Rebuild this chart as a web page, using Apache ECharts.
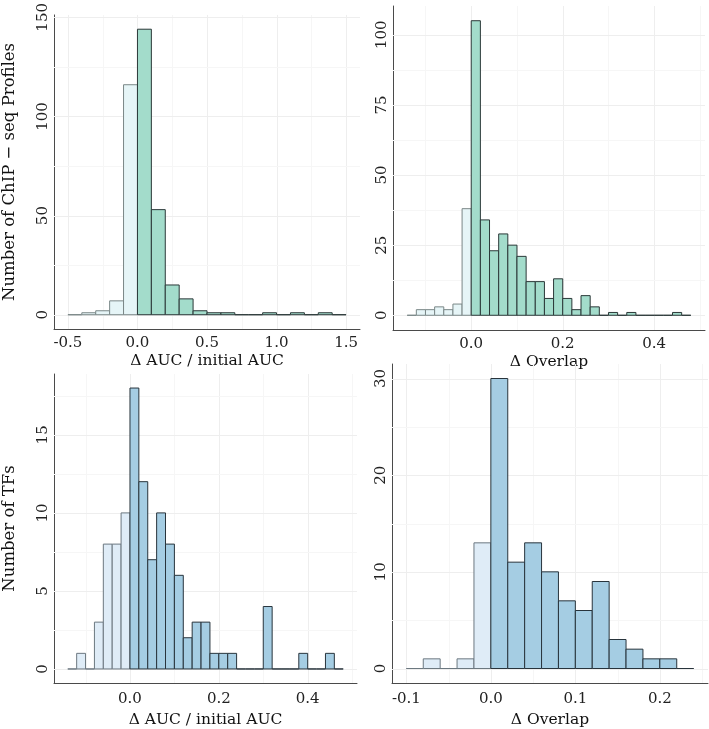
<!DOCTYPE html>
<html><head><meta charset="utf-8">
<script src="https://cdn.jsdelivr.net/npm/echarts@6/dist/echarts.min.js"></script>
<style>html,body{margin:0;padding:0;background:#fff}#c{width:709px;height:729px}</style>
</head><body><div id="c"></div>
<script>
// ---------- DATA ----------
// Panel A: ChIP-seq profiles, Δ AUC / initial AUC
const chipAucStart = -0.5, chipAucWidth = 0.1;
const chipAucCounts = [0,1,2,7,116,144,53,15,8,2,1,1,0,0,1,0,1,0,1,0];
const chipAucXTicks = [-0.5,0,0.5,1,1.5];
const chipAucXMinor = [-0.25,0.25,0.75,1.25];
const chipAucYTicks = [0,50,100,150];
const chipAucYMinor = [25,75,125];

// Panel B: ChIP-seq profiles, Δ Overlap
const chipOvStart = -0.14, chipOvWidth = 0.02;
const chipOvCounts = [0,2,2,3,2,4,38,105,34,23,29,25,21,12,12,6,13,6,2,7,3,0,1,0,1,0,0,0,0,1,0];
const chipOvXTicks = [0,0.2,0.4];
const chipOvXMinor = [-0.1,0.1,0.3,0.5];
const chipOvYTicks = [0,25,50,75,100];
const chipOvYMinor = [12.5,37.5,62.5,87.5];

// Panel C: TFs, Δ AUC / initial AUC
const tfAucStart = -0.14, tfAucWidth = 0.02;
const tfAucCounts = [0,1,0,3,8,8,10,18,12,7,10,8,6,2,3,3,1,1,1,0,0,0,4,0,0,0,1,0,0,1,0];
const tfAucXTicks = [0,0.2,0.4];
const tfAucXMinor = [-0.1,0.1,0.3,0.5];
const tfAucYTicks = [0,5,10,15];
const tfAucYMinor = [2.5,7.5,12.5,17.5];

// Panel D: TFs, Δ Overlap
const tfOvStart = -0.10, tfOvWidth = 0.02;
const tfOvCounts = [0,1,0,1,13,30,11,13,10,7,6,9,3,2,1,1,0];
const tfOvXTicks = [-0.1,0,0.1,0.2];
const tfOvXMinor = [-0.05,0.05,0.15,0.25];
const tfOvYTicks = [0,10,20,30];
const tfOvYMinor = [5,15,25];

const xTitleAuc = 'Δ AUC / initial AUC';
const xTitleOv = 'Δ Overlap';
const yTitleChip = 'Number of ChIP − seq Profiles';
const yTitleTF = 'Number of TFs';

// ---------- STYLE ----------
const FONT = 'DejaVu Serif';
const greens = {neg:'#e6f5f7', pos:'#a3dccb', negStroke:'#7a8787', posStroke:'#2b3838'};
const blues  = {neg:'#dfecf7', pos:'#a5cde3', negStroke:'#6c7880', posStroke:'#28343c'};

const panels = [
  {grid:{left:54, top:11, width:306, height:318}, start:chipAucStart, w:chipAucWidth, counts:chipAucCounts,
   xt:chipAucXTicks, xm:chipAucXMinor, yt:chipAucYTicks, ym:chipAucYMinor, xDec:1,
   xName:xTitleAuc, yName:yTitleChip, pal:greens, xGap:24, xMargin:7},
  {grid:{left:393, top:6, width:312, height:324}, start:chipOvStart, w:chipOvWidth, counts:chipOvCounts,
   xt:chipOvXTicks, xm:chipOvXMinor, yt:chipOvYTicks, ym:chipOvYMinor, xDec:1,
   xName:xTitleOv, yName:'', pal:greens, xGap:24, xMargin:7},
  {grid:{left:53, top:374, width:304, height:309}, start:tfAucStart, w:tfAucWidth, counts:tfAucCounts,
   xt:tfAucXTicks, xm:tfAucXMinor, yt:tfAucYTicks, ym:tfAucYMinor, xDec:1,
   xName:xTitleAuc, yName:yTitleTF, pal:blues, xGap:29, xMargin:9},
  {grid:{left:392, top:364, width:316, height:319}, start:tfOvStart, w:tfOvWidth, counts:tfOvCounts,
   xt:tfOvXTicks, xm:tfOvXMinor, yt:tfOvYTicks, ym:tfOvYMinor, xDec:1,
   xName:xTitleOv, yName:'', pal:blues, xGap:29, xMargin:9}
];

const option = {animation:false, backgroundColor:'#fff', grid:[], xAxis:[], yAxis:[], series:[]};

panels.forEach((p, i) => {
  const n = p.counts.length;
  const end = p.start + n * p.w;
  const xr = end - p.start;
  const ymax = Math.max.apply(null, p.counts);
  const xmin = p.start - 0.05 * xr, xmax = end + 0.05 * xr;
  const ymn = -0.05 * ymax, ymx = ymax * 1.05;
  option.grid.push(Object.assign({containLabel:false}, p.grid));
  option.xAxis.push({
    type:'value', gridIndex:i, min:xmin, max:xmax,
    axisLine:{show:true, onZero:false, lineStyle:{color:'#4a4a4a', width:1}},
    axisTick:{show:false}, splitLine:{show:false},
    axisLabel:{customValues:p.xt, margin:p.xMargin, color:'#222', fontFamily:FONT, fontSize:15,
      formatter:v => (Math.abs(v) < 1e-9 ? 0 : v).toFixed(p.xDec)},
    name:p.xName, nameLocation:'middle', nameGap:p.xGap,
    nameTextStyle:{color:'#111', fontFamily:FONT, fontSize:15.5}
  });
  option.yAxis.push({
    type:'value', gridIndex:i, min:ymn, max:ymx,
    axisLine:{show:true, onZero:false, lineStyle:{color:'#4a4a4a', width:1}},
    axisTick:{show:false}, splitLine:{show:false},
    axisLabel:{customValues:p.yt, rotate:90, margin:3, color:'#222', fontFamily:FONT, fontSize:15,
      formatter:v => String(Math.round(v))},
    name:p.yName, nameLocation:'middle', nameGap:36, nameRotate:90,
    nameTextStyle:{color:'#111', fontFamily:FONT, fontSize:16.5}
  });
  // gridlines
  const gl = [];
  p.xt.forEach(v => gl.push([v, 0, 1]));
  p.xm.forEach(v => gl.push([v, 0, 0]));
  p.yt.forEach(v => gl.push([v, 1, 1]));
  p.ym.forEach(v => gl.push([v, 1, 0]));
  option.series.push({
    type:'custom', xAxisIndex:i, yAxisIndex:i, silent:true, z:1,
    data:gl, encode:{x:0},
    renderItem:(params, api) => {
      const cs = params.coordSys;
      const v = api.value(0), dir = api.value(1), major = api.value(2);
      let shape;
      if (dir === 0) {
        const x = Math.round(api.coord([v, 0])[0]) + 0.5;
        shape = {x1:x, y1:cs.y, x2:x, y2:cs.y + cs.height};
      } else {
        const y = Math.round(api.coord([xmin, v])[1]) + 0.5;
        shape = {x1:cs.x, y1:y, x2:cs.x + cs.width, y2:y};
      }
      return {type:'line', shape, style:{stroke: major ? '#eeeeee' : '#f6f6f6', lineWidth:1}};
    }
  });
  // histogram bins
  const bins = p.counts.map((c, k) => [p.start + k * p.w, p.start + (k + 1) * p.w, c]);
  const pal = p.pal;
  option.series.push({
    type:'custom', xAxisIndex:i, yAxisIndex:i, silent:true, z:3,
    data:bins, encode:{x:[0,1], y:2},
    renderItem:(params, api) => {
      const x0 = api.value(0), x1 = api.value(1), c = api.value(2);
      const a = api.coord([x0, 0]);
      const b = api.coord([x1, c]);
      const neg = x1 <= 1e-9;
      return {type:'rect',
        shape:{x:a[0], y:b[1], width:b[0] - a[0], height:a[1] - b[1]},
        style:{fill: neg ? pal.neg : pal.pos, stroke: neg ? pal.negStroke : pal.posStroke, lineWidth:1}};
    }
  });
});

const chart = echarts.init(document.getElementById('c'), null, {renderer:'canvas'});
chart.setOption(option);
</script>
</body></html>
